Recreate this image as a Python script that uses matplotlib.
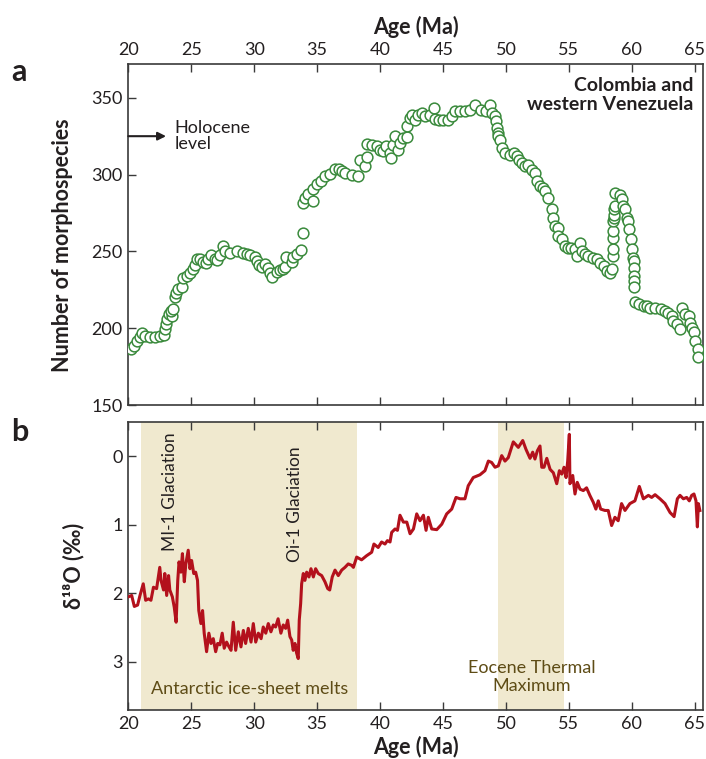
import numpy as np
import matplotlib
matplotlib.use("Agg")
import matplotlib.pyplot as plt

plt.rcParams['font.family'] = ['Lato', 'DejaVu Sans']

# --- panel a: number of morphospecies (Colombia and western Venezuela)
species_age = [20.2, 20.45, 20.7, 20.9, 21.05, 21.35, 21.7, 22.1, 22.5, 22.8, 22.9, 23.0, 23.05, 23.2,
               23.5, 23.4, 23.55, 23.7, 23.8, 23.95, 24.25, 24.35, 24.7, 24.9, 25.15, 25.3, 25.45, 25.7,
               25.95, 26.15, 26.35, 26.6, 26.9, 27.05, 27.25, 27.55, 27.7, 28.1, 28.6, 29.1, 29.4, 29.65,
               30.05, 30.2, 30.35, 30.6, 30.85, 31.1, 31.25, 31.4, 31.8, 32.05, 32.25, 32.45, 32.55, 33.0,
               33.1, 33.4, 33.75, 33.9, 33.9, 34.05, 34.3, 34.7, 34.7, 34.95, 35.3, 35.6, 36.0, 36.4,
               36.7, 36.95, 37.2, 37.75, 38.25, 38.4, 38.8, 38.95, 38.95, 39.35, 39.75, 40.0, 40.25, 40.5,
               40.8, 40.9, 41.05, 41.2, 41.45, 41.55, 41.85, 42.1, 42.1, 42.4, 42.5, 42.75, 43.05, 43.3,
               43.55, 43.95, 44.25, 44.35, 44.65, 45.0, 45.4, 45.7, 45.95, 46.35, 46.75, 47.15, 47.55, 48.05,
               48.45, 48.75, 48.85, 49.1, 49.2, 49.3, 49.4, 49.4, 49.5, 49.65, 49.9, 50.3, 50.6, 50.85,
               51.0, 51.25, 51.5, 51.75, 52.05, 52.3, 52.45, 52.7, 52.95, 53.1, 53.35, 53.65, 53.75, 53.9,
               54.15, 54.15, 54.45, 54.7, 54.95, 55.2, 55.5, 55.6, 55.9, 56.0, 56.3, 56.55, 56.95, 57.2,
               57.45, 57.75, 58.0, 58.25, 58.4, 58.5, 58.5, 58.5, 58.5, 58.5, 58.55, 58.55, 58.6, 58.65,
               58.65, 59.05, 59.2, 59.3, 59.45, 59.6, 59.7, 59.8, 59.9, 60.0, 60.1, 60.15, 60.15, 60.15,
               60.15, 60.15, 60.25, 60.6, 61.0, 61.2, 61.45, 61.8, 62.35, 62.6, 62.9, 63.15, 63.3, 63.55,
               63.8, 63.95, 64.2, 64.5, 64.6, 64.75, 64.9, 65.0, 65.25, 65.25]
species_count = [186.5, 188.6, 191.8, 194, 196.8, 195, 194.4, 194.4, 195, 195.4, 199.4, 202.6, 205.8, 209,
                 208, 211.3, 212.3, 220, 223.2, 225.3, 226.8, 232.9, 234, 236.2, 238.3, 240.9, 244.8, 245.3,
                 243.1, 242.7, 244.8, 247.4, 244.8, 244.4, 247.4, 253.5, 250.2, 248.7, 250.2, 249.1, 248, 247.4,
                 246.6, 243.8, 240.9, 240.1, 241.6, 239.4, 236.2, 233.6, 236.6, 238, 238.3, 240.1, 246.6, 243.1,
                 246.6, 248, 250.9, 262.1, 281.6, 285, 287.5, 283, 290.8, 294, 296, 299, 300.5, 303.9,
                 303.9, 302.6, 301.1, 299.6, 299, 309.7, 305.4, 311.3, 319.9, 319.5, 318.4, 316.2, 315.1, 318.4,
                 314.1, 310.8, 319.5, 324.9, 316.2, 320.6, 323.8, 324.3, 331.4, 336.8, 339, 335.7, 339, 340.1,
                 337.9, 339, 343.3, 336.4, 335.7, 335.7, 335.7, 337.9, 341.1, 341.1, 341.1, 342.2, 345, 342.2,
                 341.1, 345, 340.1, 337.9, 334.6, 330.3, 327.1, 324.9, 322.7, 317.3, 314.1, 313, 314.1, 311.9,
                 309.7, 307.6, 305.4, 306.5, 303.2, 301.1, 295.7, 292.5, 291.4, 289.2, 284.9, 277.3, 271.9, 266.4,
                 265.4, 260, 257.8, 253.5, 252.4, 252.4, 251.3, 247, 255.7, 250.2, 248, 247, 246, 244.8,
                 242.7, 240.5, 237.3, 236.2, 238.3, 247, 251.3, 258.9, 263.2, 269.7, 271.9, 274, 277.3, 279.4,
                 288.1, 287, 283.8, 279.4, 277.3, 271.9, 269.7, 264.3, 257.8, 251.3, 246, 243.8, 239.4, 234,
                 230.8, 226.5, 216.8, 215.6, 214.5, 214.5, 213.4, 213.4, 212.3, 211.3, 210.2, 208, 204.8, 202.6,
                 199.4, 213.4, 209, 208, 203.7, 200.4, 197.2, 191.8, 186.4, 181]
holocene_level = 325

# --- panel b: benthic oxygen isotopes
d18o_age = [20.0, 20.27, 20.48, 20.74, 20.93, 21.19, 21.38, 21.6, 21.8, 22.0, 22.25, 22.5, 22.6, 22.8,
            22.9, 23.05, 23.2, 23.3, 23.5, 23.65, 23.8, 23.93, 24.03, 24.18, 24.3, 24.45, 24.57, 24.76,
            24.9, 25.03, 25.2, 25.35, 25.5, 25.6, 25.77, 25.9, 26.03, 26.22, 26.4, 26.57, 26.75, 26.94,
            27.1, 27.28, 27.46, 27.62, 27.81, 28.0, 28.16, 28.34, 28.53, 28.74, 28.95, 29.14, 29.32, 29.53,
            29.75, 29.93, 30.12, 30.33, 30.55, 30.72, 30.92, 31.12, 31.33, 31.52, 31.7, 31.9, 32.12, 32.31,
            32.5, 32.66, 32.84, 32.98, 33.1, 33.24, 33.37, 33.5, 33.58, 33.69, 33.77, 33.9, 34.03, 34.17,
            34.35, 34.51, 34.7, 34.88, 35.09, 35.36, 35.62, 35.84, 36.0, 36.2, 36.42, 36.68, 36.95, 37.21,
            37.47, 37.74, 37.88, 38.14, 38.53, 38.93, 39.33, 39.51, 39.85, 40.12, 40.39, 40.58, 40.79, 40.92,
            41.19, 41.38, 41.58, 41.85, 42.12, 42.38, 42.65, 42.91, 43.17, 43.44, 43.65, 43.83, 44.1, 44.5,
            44.9, 45.29, 45.69, 46.03, 46.35, 46.74, 47.0, 47.4, 47.93, 48.33, 48.6, 48.86, 49.13, 49.39,
            49.66, 49.92, 50.18, 50.58, 50.98, 51.33, 51.59, 51.91, 52.12, 52.3, 52.49, 52.7, 52.84, 53.02,
            53.24, 53.5, 53.76, 54.03, 54.24, 54.43, 54.61, 54.77, 54.9, 55.03, 55.08, 55.3, 55.48, 55.66,
            55.88, 56.14, 56.4, 56.66, 56.93, 57.14, 57.33, 57.52, 57.86, 58.12, 58.39, 58.65, 58.91, 59.18,
            59.45, 59.84, 60.24, 60.59, 60.91, 61.31, 61.57, 61.84, 62.23, 62.63, 63.03, 63.35, 63.61, 63.82,
            64.09, 64.35, 64.56, 64.75, 64.93, 65.09, 65.2, 65.28, 65.4]
d18o_value = [2.05, 2.03, 2.19, 2.17, 2.03, 1.86, 2.10, 2.08, 2.10, 1.91, 1.93, 1.62, 1.81, 1.95,
              1.71, 2.03, 1.74, 1.95, 2.05, 2.20, 2.42, 1.81, 1.54, 1.69, 1.42, 1.83, 1.57, 1.37,
              1.64, 1.52, 1.71, 1.69, 1.81, 2.25, 2.44, 2.25, 2.58, 2.85, 2.58, 2.73, 2.66, 2.85,
              2.73, 2.75, 2.58, 2.80, 2.71, 2.78, 2.83, 2.42, 2.83, 2.56, 2.78, 2.54, 2.73, 2.51,
              2.71, 2.44, 2.71, 2.58, 2.66, 2.49, 2.58, 2.44, 2.56, 2.46, 2.49, 2.37, 2.58, 2.46,
              2.51, 2.39, 2.63, 2.68, 2.83, 2.73, 2.87, 2.95, 2.39, 2.15, 1.86, 1.71, 1.81, 1.69,
              1.76, 1.64, 1.76, 1.64, 1.71, 1.74, 1.83, 1.93, 1.95, 1.76, 1.66, 1.74, 1.66, 1.62,
              1.57, 1.59, 1.62, 1.47, 1.51, 1.45, 1.40, 1.28, 1.33, 1.25, 1.28, 1.23, 1.25, 1.11,
              1.06, 1.08, 0.86, 0.96, 0.96, 1.13, 1.06, 0.84, 0.94, 0.86, 1.08, 0.89, 1.06, 1.07,
              0.99, 0.84, 0.77, 0.60, 0.62, 0.62, 0.43, 0.31, 0.27, 0.21, 0.07, 0.09, 0.16, 0.14,
              -0.01, 0.07, 0.02, -0.21, -0.13, -0.23, -0.10, 0.03, -0.06, 0.04, -0.08, -0.15, 0.16, 0.16,
              0.03, 0.19, 0.24, 0.40, 0.21, 0.26, 0.16, 0.31, 0.07, -0.32, 0.40, 0.28, 0.55, 0.38,
              0.48, 0.50, 0.46, 0.57, 0.67, 0.77, 0.65, 0.77, 0.79, 0.79, 1.01, 0.89, 0.94, 0.69,
              0.79, 0.69, 0.65, 0.44, 0.62, 0.57, 0.60, 0.56, 0.62, 0.69, 0.82, 0.88, 0.62, 0.57,
              0.62, 0.60, 0.65, 0.57, 0.55, 0.65, 1.03, 0.69, 0.79]

# shaded intervals (Ma)
ice_melt_span = (21.0, 38.2)
eocene_max_span = (49.4, 54.6)

green = '#3a8a3c'
red = '#b3111c'
shade = '#f0e9cf'
olive = '#5e4c16'
spine_col = '#3a3a3a'
text_col = '#231f20'

fig = plt.figure(figsize=(7.06, 7.59), dpi=100)
ax1 = fig.add_axes([0.1817, 0.4664, 0.8141, 0.4493])
ax2 = fig.add_axes([0.1817, 0.0646, 0.8141, 0.3794])

for ax in (ax1, ax2):
    ax.set_xlim(20, 65.65)
    ax.set_xticks(range(20, 70, 5))
    ax.tick_params(direction='in', length=6, width=1, color=spine_col, labelsize=13,
                   labelcolor=text_col, top=True, bottom=True, right=False, pad=4)
    for s in ax.spines.values():
        s.set_color(spine_col)
        s.set_linewidth(1.2)

#--- a
ax1.scatter(species_age, species_count, s=60, facecolors='white', edgecolors=green, linewidths=1.1, zorder=3)
ax1.set_ylim(150, 372)
ax1.set_yticks([150, 200, 250, 300, 350])
ax1.tick_params(labeltop=True, labelbottom=False)
ax1.xaxis.set_label_position('top')
ax1.set_xlabel('Age (Ma)', fontsize=15.5, fontweight='bold', color=text_col, labelpad=6)
ax1.set_ylabel('Number of morphospecies', fontsize=15.5, fontweight='bold', color=text_col)
ax1.yaxis.set_label_coords(-0.096, 0.47)
ax1.annotate('', xy=(23.0, holocene_level), xytext=(20, holocene_level),
             arrowprops=dict(arrowstyle='-|>', color='#231f20', lw=1.5, mutation_scale=12, shrinkA=0, shrinkB=0))
ax1.text(23.7, holocene_level, 'Holocene\nlevel', fontsize=13, color=text_col, va='center', ha='left', linespacing=1.0)
ax1.text(0.9826, 0.962, 'Colombia and\nwestern Venezuela', transform=ax1.transAxes, fontsize=14,
         fontweight='bold', color=text_col, ha='right', va='top', linespacing=1.15)

#--- b
ax2.axvspan(*ice_melt_span, color=shade, lw=0, zorder=0)
ax2.axvspan(*eocene_max_span, color=shade, lw=0, zorder=0)
ax2.plot(d18o_age, d18o_value, color=red, lw=2.2, zorder=3)
ax2.set_ylim(3.7, -0.5)
ax2.set_yticks([0, 1, 2, 3])
ax2.set_xlabel('Age (Ma)', fontsize=15.5, fontweight='bold', color=text_col, labelpad=3)
ax2.set_ylabel('δ¹⁸O (‰)', fontsize=15.5, fontweight='bold', color=text_col, labelpad=20)
ax2.text(23.3, 1.38, 'MI-1 Glaciation', rotation=90, fontsize=12.5, color=text_col, ha='center', va='bottom')
ax2.text(33.25, 1.54, 'Oi-1 Glaciation', rotation=90, fontsize=12.5, color=text_col, ha='center', va='bottom')
ax2.text(29.6, 3.40, 'Antarctic ice-sheet melts', fontsize=13, color=olive, ha='center', va='center')
ax2.text(52.05, 3.22, 'Eocene Thermal\nMaximum', fontsize=13, color=olive, ha='center', va='center', linespacing=1.15)

fig.text(0.027, 0.905, 'a', fontsize=22, fontweight='bold', color=text_col, ha='center', va='center')
fig.text(0.028, 0.431, 'b', fontsize=22, fontweight='bold', color=text_col, ha='center', va='center')

fig.savefig('out.png', dpi=100)
